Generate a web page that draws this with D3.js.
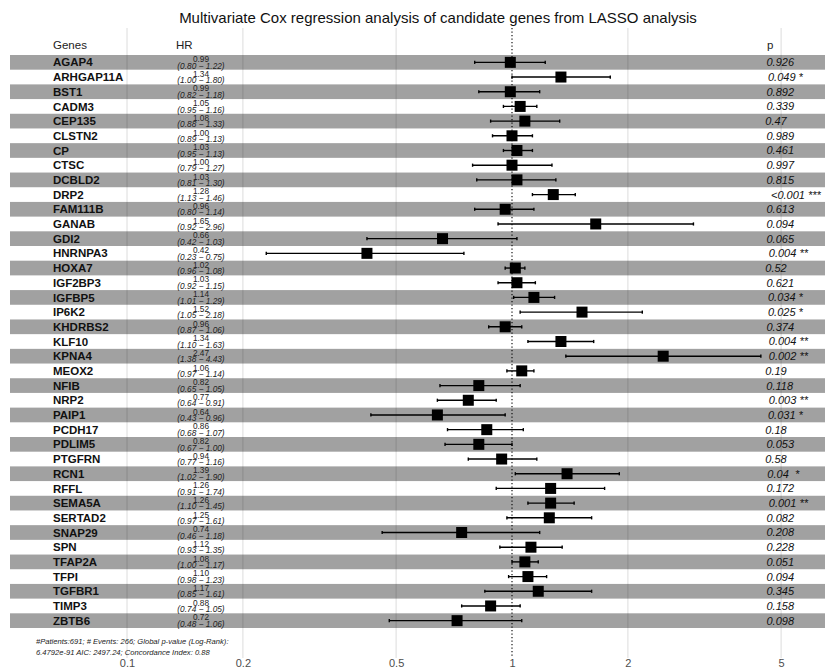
<!DOCTYPE html>
<html>
<head>
<meta charset="utf-8">
<script src="https://cdn.jsdelivr.net/npm/d3@7"></script>
<style>
  html, body { margin: 0; padding: 0; background: #fff; }
  svg { display: block; font-family: "Liberation Sans", Arial, sans-serif; }
</style>
</head>
<body>
<svg id="chart" width="825" height="671"></svg>
<script>
// Multivariate Cox model: hazard ratios with 95% CI per gene
const genes = ["AGAP4","ARHGAP11A","BST1","CADM3","CEP135","CLSTN2","CP","CTSC","DCBLD2","DRP2",
  "FAM111B","GANAB","GDI2","HNRNPA3","HOXA7","IGF2BP3","IGFBP5","IP6K2","KHDRBS2","KLF10",
  "KPNA4","MEOX2","NFIB","NRP2","PAIP1","PCDH17","PDLIM5","PTGFRN","RCN1","RFFL",
  "SEMA5A","SERTAD2","SNAP29","SPN","TFAP2A","TFPI","TGFBR1","TIMP3","ZBTB6"];
const hr = [0.99,1.34,0.99,1.05,1.08,1.00,1.03,1.00,1.03,1.28,
  0.96,1.65,0.66,0.42,1.02,1.03,1.14,1.52,0.96,1.34,
  2.47,1.06,0.82,0.77,0.64,0.86,0.82,0.94,1.39,1.26,
  1.26,1.25,0.74,1.12,1.08,1.10,1.17,0.88,0.72];
const lower = [0.80,1.00,0.82,0.95,0.88,0.89,0.95,0.79,0.81,1.13,
  0.80,0.92,0.42,0.23,0.96,0.92,1.01,1.05,0.87,1.10,
  1.38,0.97,0.65,0.64,0.43,0.68,0.67,0.77,1.02,0.91,
  1.10,0.97,0.46,0.93,1.00,0.98,0.85,0.74,0.48];
const upper = [1.22,1.80,1.18,1.16,1.33,1.13,1.13,1.27,1.30,1.46,
  1.14,2.96,1.03,0.75,1.08,1.15,1.29,2.18,1.06,1.63,
  4.43,1.14,1.05,0.91,0.96,1.07,1.00,1.16,1.90,1.74,
  1.45,1.61,1.18,1.35,1.17,1.23,1.61,1.05,1.06];
const pValues = ["0.926","0.049","0.892","0.339","0.47","0.989","0.461","0.997","0.815","<0.001",
  "0.613","0.094","0.065","0.004","0.52","0.621","0.034","0.025","0.374","0.004",
  "0.002","0.19","0.118","0.003","0.031","0.18","0.053","0.58","0.04 ","0.172",
  "0.001","0.082","0.208","0.228","0.051","0.094","0.345","0.158","0.098"];
const stars = ["","*","","","","","","","","***",
  "","","","**","","","*","*","","**",
  "**","","","**","*","","","","*","",
  "**","","","","","","","",""];
const tickValues = [0.1, 0.2, 0.5, 1, 2, 5];
const tickLabels = ["0.1","0.2","0.5","1","2","5"];
const headers = ["Genes","HR","p"];
const titleText = "Multivariate Cox regression analysis of candidate genes from LASSO analysis";
const footerLines = [
  "#Patients:691; # Events: 266; Global p-value (Log-Rank):",
  "6.4792e-91 AIC: 2497.24; Concordance Index: 0.88"
];

const rows = genes.map((g, i) => ({
  gene: g, hr: hr[i], lo: lower[i], hi: upper[i], p: pValues[i], stars: stars[i], i
}));

const svg = d3.select("#chart");

// Scales
const x = d3.scaleLog().domain([0.1, 5]).range([127, 781.1]);
const y = d3.scaleBand().domain(genes).range([55, 628]).padding(0);
const rowH = y.bandwidth();

const panelTop = 28, panelBottom = 658;

// Vertical grid lines at axis ticks (the reference value gets a dotted line instead)
svg.append("g").selectAll("line")
  .data(tickValues.filter(v => v !== 1))
  .join("line")
  .attr("x1", d => x(d)).attr("x2", d => x(d))
  .attr("y1", panelTop).attr("y2", panelBottom)
  .attr("stroke", "#dcdcdc").attr("stroke-width", 1);

// Alternating row bands
svg.append("g").selectAll("rect")
  .data(rows.filter(r => r.i % 2 === 0))
  .join("rect")
  .attr("x", 10).attr("width", 815)
  .attr("y", d => y(d.gene)).attr("height", rowH)
  .attr("fill", "rgba(0,0,0,0.37)");

// Dotted reference line at HR = 1
svg.append("line")
  .attr("x1", x(1)).attr("x2", x(1))
  .attr("y1", panelTop).attr("y2", panelBottom)
  .attr("stroke", "#000").attr("stroke-width", 1.1)
  .attr("stroke-dasharray", "1.2,2.3");

// Confidence intervals
const ci = svg.append("g").attr("stroke", "#000").attr("stroke-width", 1.4);
ci.selectAll("line.ci").data(rows).join("line").attr("class", "ci")
  .attr("x1", d => x(d.lo)).attr("x2", d => x(d.hi))
  .attr("y1", d => y(d.gene) + rowH / 2).attr("y2", d => y(d.gene) + rowH / 2);
ci.selectAll("line.capl").data(rows).join("line").attr("class", "capl")
  .attr("x1", d => x(d.lo)).attr("x2", d => x(d.lo))
  .attr("y1", d => y(d.gene) + rowH / 2 - 1.6).attr("y2", d => y(d.gene) + rowH / 2 + 1.6);
ci.selectAll("line.capr").data(rows).join("line").attr("class", "capr")
  .attr("x1", d => x(d.hi)).attr("x2", d => x(d.hi))
  .attr("y1", d => y(d.gene) + rowH / 2 - 1.6).attr("y2", d => y(d.gene) + rowH / 2 + 1.6);

// Point estimates
const sq = 11;
svg.append("g").selectAll("rect")
  .data(rows).join("rect")
  .attr("x", d => x(d.hr) - sq / 2).attr("y", d => y(d.gene) + rowH / 2 - sq / 2)
  .attr("width", sq).attr("height", sq).attr("fill", "#000");

// Gene names
svg.append("g").selectAll("text")
  .data(rows).join("text")
  .attr("x", 53).attr("y", d => y(d.gene) + rowH / 2)
  .attr("dy", "0.36em")
  .attr("font-size", 11.5).attr("font-weight", "bold").attr("fill", "#111")
  .text(d => d.gene);

// HR estimate and CI text
const hrX = 201;
svg.append("g").selectAll("text")
  .data(rows).join("text")
  .attr("x", hrX).attr("y", d => y(d.gene) + rowH / 2 - 0.3)
  .attr("text-anchor", "middle")
  .attr("font-size", 8.3).attr("fill", "#222")
  .text(d => d.hr.toFixed(2));
svg.append("g").selectAll("text")
  .data(rows).join("text")
  .attr("x", hrX).attr("y", d => y(d.gene) + rowH / 2 + 6.2)
  .attr("text-anchor", "middle")
  .attr("font-size", 8.3).attr("font-style", "italic").attr("fill", "#222")
  .text(d => "(" + d.lo.toFixed(2) + " \u2212 " + d.hi.toFixed(2) + ")");

// p-values, placed with a left offset of 20% of their own width
const pX = 761;
svg.append("g").selectAll("text")
  .data(rows).join("text")
  .attr("y", d => y(d.gene) + rowH / 2)
  .attr("dy", "0.36em")
  .attr("font-size", 11).attr("font-style", "italic").attr("fill", "#111")
  .style("white-space", "pre")
  .text(d => d.stars ? d.p + " " + d.stars : d.p)
  .attr("x", function () { return pX + 0.2 * this.getComputedTextLength(); });

// Column headers
const headerX = [53, 176, 767];
svg.append("g").selectAll("text")
  .data(headers).join("text")
  .attr("x", (d, i) => headerX[i]).attr("y", 45)
  .attr("dy", "0.36em")
  .attr("font-size", 11.5).attr("fill", "#222")
  .text(d => d);

// Title
svg.append("text")
  .attr("x", 438).attr("y", 23)
  .attr("text-anchor", "middle")
  .attr("font-size", 15).attr("fill", "#111")
  .text(titleText);

// Footer with model statistics
svg.append("g").selectAll("text")
  .data(footerLines).join("text")
  .attr("x", 36).attr("y", (d, i) => 644 + i * 11)
  .attr("font-size", 7.6).attr("font-style", "italic").attr("fill", "#222")
  .text(d => d);

// Log-scale x axis labels
const axis = d3.axisBottom(x).tickValues(tickValues)
  .tickFormat((d, i) => tickLabels[i]).tickSize(0).tickPadding(0);
const axisG = svg.append("g").attr("transform", "translate(0,659)").call(axis);
axisG.select(".domain").remove();
axisG.selectAll("text")
  .attr("font-size", 11).attr("fill", "#4d4d4d")
  .attr("font-family", "Liberation Sans, Arial, sans-serif");
</script>
</body>
</html>
